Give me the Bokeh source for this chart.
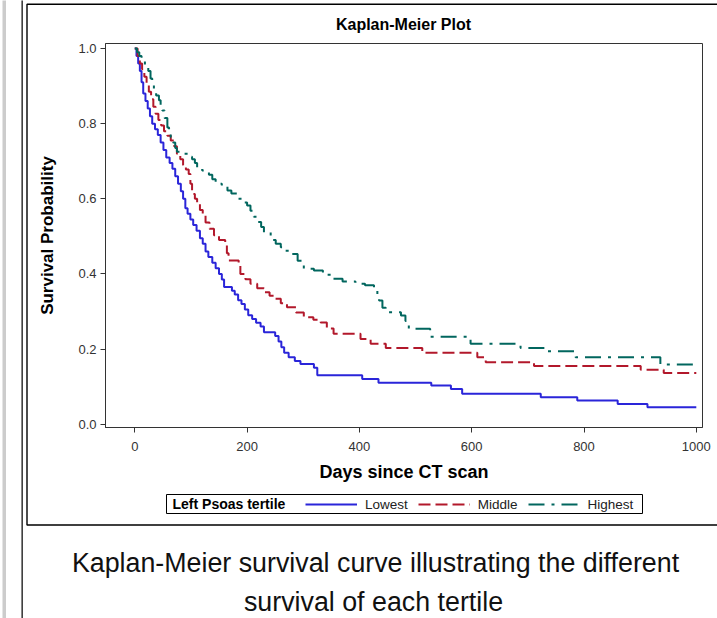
from bokeh.plotting import figure
from bokeh.models import (Range1d, FixedTicker, Label, Legend, LegendItem,
                          BoxAnnotation, NumeralTickFormatter)
from bokeh.embed import file_html
from bokeh.resources import INLINE

# ---------------- data ----------------
x_ticks = [0, 200, 400, 600, 800, 1000]
y_ticks = [0.0, 0.2, 0.4, 0.6, 0.8, 1.0]
series_names = ["Lowest", "Middle", "Highest"]

lowest_t = [0, 3, 6, 9, 12, 15, 19, 23, 27, 31, 36, 41, 46, 51, 56, 62, 67, 72, 77, 82,
            86, 90, 94, 99, 104, 110, 116, 121, 126, 131, 138, 144, 150, 155, 159, 173, 178, 184, 190, 196,
            202, 209, 216, 224, 230, 250, 256, 261, 266, 274, 285, 295, 319, 325, 405, 434, 528, 563, 583, 723,
            788, 860, 913, 1000]
lowest_s = [1.0, 0.98, 0.96, 0.94, 0.91, 0.88, 0.86, 0.84, 0.82, 0.80, 0.785, 0.77, 0.75, 0.73, 0.71, 0.695, 0.68, 0.66, 0.64, 0.62,
            0.60, 0.575, 0.56, 0.545, 0.53, 0.515, 0.495, 0.48, 0.46, 0.445, 0.43, 0.415, 0.40, 0.385, 0.365, 0.355, 0.345, 0.33, 0.32, 0.305,
            0.29, 0.28, 0.27, 0.26, 0.245, 0.235, 0.22, 0.205, 0.19, 0.178, 0.168, 0.16, 0.15, 0.13, 0.12, 0.11, 0.103, 0.094, 0.081, 0.072,
            0.063, 0.054, 0.045, 0.045]

middle_t = [0, 5, 9, 13, 17, 21, 25, 29, 33, 37, 42, 47, 52, 58, 64, 70, 75, 81, 86, 91,
            96, 99, 102, 107, 111, 116, 121, 126, 133, 141, 150, 161, 164, 167, 185, 188, 197, 206, 218, 230,
            240, 248, 260, 271, 287, 301, 318, 331, 342, 354, 402, 420, 447, 512, 610, 625, 711, 901, 942, 1000]
middle_s = [1.0, 0.98, 0.96, 0.945, 0.925, 0.905, 0.885, 0.865, 0.845, 0.826, 0.81, 0.795, 0.78, 0.768, 0.755, 0.74, 0.72, 0.705, 0.69, 0.678,
            0.666, 0.64, 0.613, 0.60, 0.587, 0.57, 0.555, 0.537, 0.52, 0.503, 0.49, 0.478, 0.455, 0.436, 0.427, 0.40, 0.386, 0.374, 0.362, 0.351,
            0.342, 0.334, 0.322, 0.311, 0.297, 0.285, 0.278, 0.271, 0.255, 0.241, 0.227, 0.214, 0.203, 0.19, 0.178, 0.165, 0.155, 0.145, 0.136, 0.136]

highest_t = [0, 4, 8, 12, 18, 24, 28, 31, 34, 38, 43, 46, 49, 53, 58, 61, 64, 68, 72, 75,
             87, 97, 102, 107, 111, 120, 132, 138, 144, 155, 165, 172, 182, 191, 200, 206, 212, 218, 225, 230,
             242, 251, 260, 265, 280, 290, 301, 319, 335, 349, 370, 393, 410, 426, 432, 435, 441, 447, 474, 482,
             488, 526, 598, 687, 735, 785, 936, 1000]
highest_s = [1.0, 0.99, 0.98, 0.97, 0.955, 0.94, 0.92, 0.905, 0.888, 0.875, 0.862, 0.848, 0.835, 0.815, 0.79, 0.775, 0.764, 0.75, 0.735, 0.725,
             0.72, 0.712, 0.705, 0.695, 0.684, 0.675, 0.664, 0.652, 0.64, 0.632, 0.622, 0.614, 0.60, 0.59, 0.582, 0.568, 0.552, 0.538, 0.525, 0.51,
             0.49, 0.48, 0.471, 0.462, 0.453, 0.435, 0.414, 0.409, 0.398, 0.387, 0.38, 0.374, 0.37, 0.356, 0.34, 0.329, 0.31, 0.298, 0.289, 0.275,
             0.254, 0.233, 0.214, 0.203, 0.194, 0.178, 0.159, 0.159]

FONT = "Liberation Sans"
W, H = 717, 618

# layout geometry (pixels) of the plot box inside the canvas
X0_PX, X1000_PX = 134.3, 695.8     # pixel of day 0 and day 1000
Y0_PX, Y1_PX = 423.7, 48.0         # pixel of probability 0 and 1
BOX_L, BOX_R, BOX_T, BOX_B = 105.0, 702.0, 43.0, 427.0

xs = (X1000_PX - X0_PX) / 1000.0
ys = (Y0_PX - Y1_PX) / 1.0
x_start = -X0_PX / xs
x_end = (W - X0_PX) / xs
y_start = (Y0_PX - H) / ys
y_end = Y0_PX / ys
box_l = (BOX_L - X0_PX) / xs
box_r = (BOX_R - X0_PX) / xs
box_b = (Y0_PX - BOX_B) / ys
box_t = (Y0_PX - BOX_T) / ys

p = figure(width=W, height=H, output_backend="svg", toolbar_location=None,
           x_range=Range1d(x_start, x_end), y_range=Range1d(y_start, y_end),
           min_border=0, min_border_left=0, min_border_right=0,
           min_border_top=0, min_border_bottom=0)
p.title.visible = False
p.grid.visible = False
p.outline_line_color = None
p.background_fill_color = "white"
p.border_fill_color = "white"

p.xaxis.ticker = FixedTicker(ticks=x_ticks)
p.yaxis.ticker = FixedTicker(ticks=y_ticks)
p.yaxis.formatter = NumeralTickFormatter(format="0.0")
p.xaxis.fixed_location = box_b
p.yaxis.fixed_location = box_l
p.xaxis.bounds = (box_l, box_r)
p.yaxis.bounds = (box_b, box_t)
for ax in (p.xaxis, p.yaxis):
    ax.minor_tick_line_color = None
    ax.major_tick_in = 0
    ax.major_tick_out = 5
    ax.axis_line_color = "#333333"
    ax.major_tick_line_color = "#333333"
    ax.major_label_text_font = FONT
    ax.major_label_text_font_size = "13px"
    ax.major_label_text_color = "#333333"
    ax.axis_label_text_font = FONT
    ax.axis_label_text_font_style = "bold"
    ax.axis_label_text_color = "black"

p.xaxis.axis_label = "Days since CT scan"
p.xaxis.axis_label_text_font_size = "18px"
p.xaxis.major_label_standoff = 9
p.xaxis.axis_label_standoff = 8
p.yaxis.axis_label = "Survival Probability"
p.yaxis.axis_label_text_font_size = "17px"
p.yaxis.major_label_standoff = 4
p.yaxis.axis_label_standoff = 18

# plot box (top and right edges)
p.add_layout(BoxAnnotation(left=box_l, right=box_r, bottom=box_b, top=box_t,
                           fill_alpha=0, line_color="#333333", line_width=1, line_alpha=1,
                           level="underlay"))

r1 = p.step(lowest_t, lowest_s, mode="after", line_color="#2A25D9", line_width=2)
r2 = p.step(middle_t, middle_s, mode="after", line_color="#B2182B", line_width=2,
            line_dash="12 5")
r3 = p.step(highest_t, highest_s, mode="after", line_color="#01665E", line_width=2,
            line_dash="16 7 3 7")

def sy(py):
    return H - py

legend = Legend(items=[LegendItem(label=series_names[0], renderers=[r1]),
                       LegendItem(label=series_names[1], renderers=[r2]),
                       LegendItem(label=series_names[2], renderers=[r3])],
                orientation="horizontal", location=(305, sy(511.5)),
                glyph_width=52, glyph_height=14, label_height=14, label_standoff=8,
                spacing=10, padding=3, border_line_color=None, background_fill_alpha=0,
                label_text_font=FONT, label_text_font_size="13.5px", label_text_color="#222222")
p.add_layout(legend)

# legend frame and title
p.add_layout(BoxAnnotation(left=166, right=642, bottom=sy(513), top=sy(494),
                           left_units="screen", right_units="screen",
                           top_units="screen", bottom_units="screen",
                           fill_alpha=0, line_color="black", line_width=1, line_alpha=1))
p.add_layout(Label(x=172, y=sy(503.5), x_units="screen", y_units="screen",
                   text="Left Psoas tertile", text_font=FONT, text_font_style="bold",
                   text_font_size="14px", text_baseline="middle", text_color="black"))

# chart title
p.add_layout(Label(x=403, y=sy(24), x_units="screen", y_units="screen",
                   text="Kaplan-Meier Plot", text_font=FONT, text_font_style="bold",
                   text_font_size="16px", text_align="center", text_baseline="middle",
                   text_color="black"))

# outer graph border and page rules
p.add_layout(BoxAnnotation(left=26.5, right=730, bottom=sy(524.5), top=sy(3.8),
                           left_units="screen", right_units="screen",
                           top_units="screen", bottom_units="screen",
                           fill_alpha=0, line_color="black", line_width=1.4, line_alpha=1))
p.add_layout(BoxAnnotation(left=21, right=22.3, bottom=-5, top=H + 5,
                           left_units="screen", right_units="screen",
                           top_units="screen", bottom_units="screen",
                           fill_color="#111111", fill_alpha=1, line_alpha=0))
p.add_layout(BoxAnnotation(left=2, right=5.5, bottom=-5, top=H + 5,
                           left_units="screen", right_units="screen",
                           top_units="screen", bottom_units="screen",
                           fill_color="#cccccc", fill_alpha=1, line_alpha=0))

# caption
p.add_layout(Label(x=375, y=sy(562), x_units="screen", y_units="screen",
                   text="Kaplan-Meier survival curve illustrating the different",
                   text_font=FONT, text_font_size="26.8px", text_align="center",
                   text_baseline="middle", text_color="#111111"))
p.add_layout(Label(x=373, y=sy(601), x_units="screen", y_units="screen",
                   text="survival of each tertile",
                   text_font=FONT, text_font_size="26.8px", text_align="center",
                   text_baseline="middle", text_color="#111111"))

open("out.html", "w").write(file_html(p, INLINE))
